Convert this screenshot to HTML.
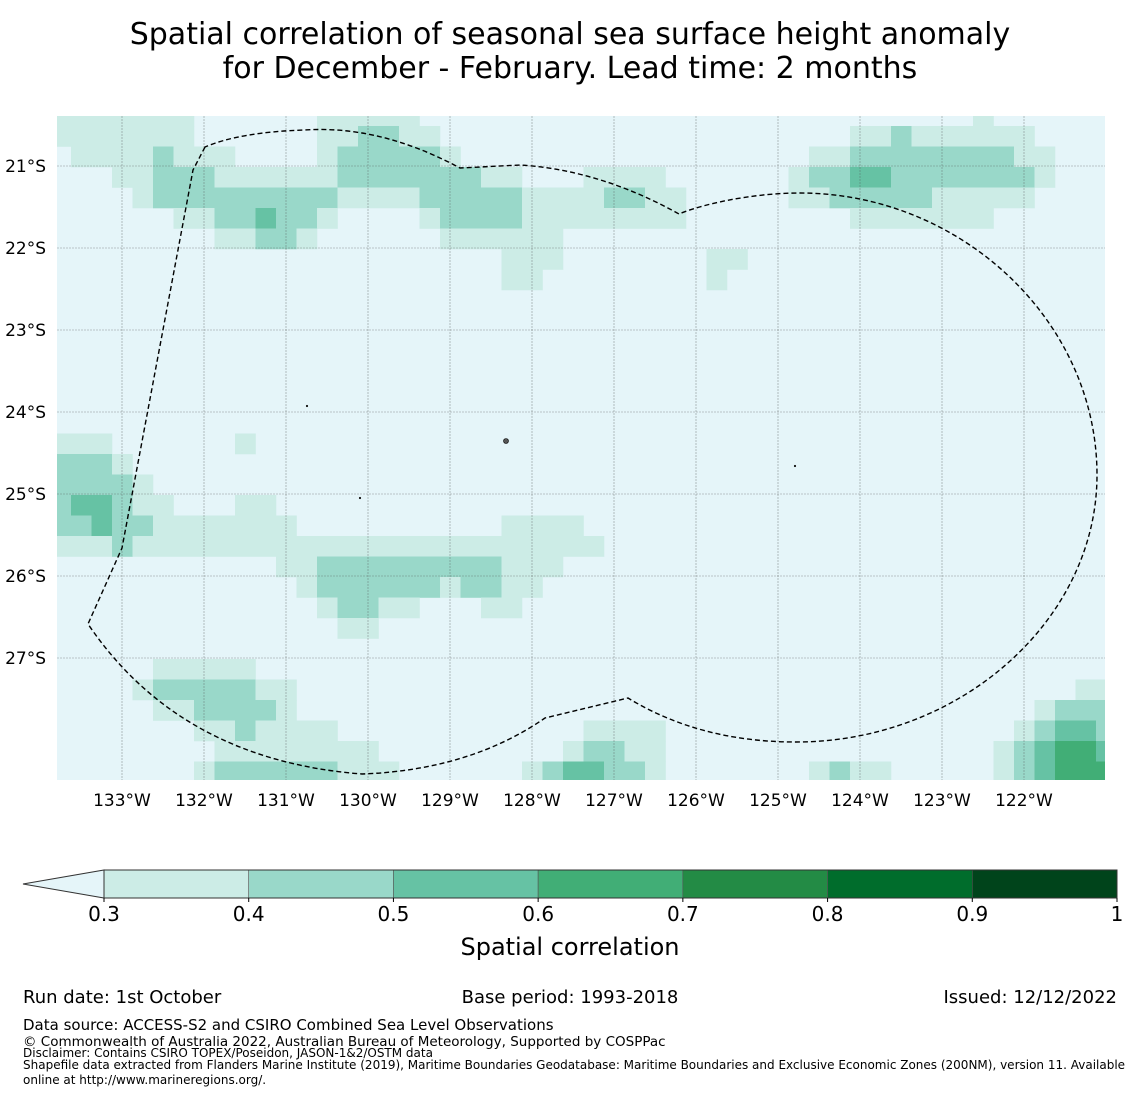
<!DOCTYPE html>
<html><head><meta charset="utf-8"><style>
html,body{margin:0;padding:0;background:#fff;}
svg{display:block;font-family:"DejaVu Sans","Liberation Sans",sans-serif;}
</style></head><body>
<svg id="fig" width="1140" height="1095" viewBox="0 0 1140 1095" xmlns="http://www.w3.org/2000/svg">
<text x="570" y="44" font-size="30" text-anchor="middle">Spatial correlation of seasonal sea surface height anomaly</text>
<text x="570" y="78" font-size="30" text-anchor="middle">for December - February. Lead time: 2 months</text>
<defs><clipPath id="mapclip"><rect x="57" y="116" width="1048" height="664"/></clipPath></defs>
<rect x="57" y="116" width="1048" height="664" fill="#e5f5f9"/>
<g id="cells" clip-path="url(#mapclip)"></g>
<g id="grid"></g>
<path d="M205,147 L193,170 L122,548 L88,624 Q180,760 362,774 Q470,770 545,718 L628,698 Q700,742 796,742 C960,742 1097,620 1097,475 C1097,320 960,193 800,193 C750,193 700,205 679,214 Q600,170 520,165 L460,168 Q380,125 305,130 Q240,132 205,147 Z" fill="none" stroke="#000" stroke-width="1.4" stroke-dasharray="5,3"/>
<g fill="#555" stroke="#000" stroke-width="0.6">
<circle cx="506" cy="441" r="2.5"/><circle cx="307" cy="406" r="0.8"/><circle cx="360" cy="498" r="0.8"/><circle cx="795" cy="466" r="0.8"/>
</g>
<g id="labels" font-size="17"></g>
<g id="cbar"></g>
<text x="570" y="955" font-size="24" text-anchor="middle">Spatial correlation</text>
<text x="23" y="1003" font-size="18">Run date: 1st October</text>
<text x="570" y="1003" font-size="18" text-anchor="middle">Base period: 1993-2018</text>
<text x="1117" y="1003" font-size="18" text-anchor="end">Issued: 12/12/2022</text>
<text x="23" y="1030" font-size="15">Data source: ACCESS-S2 and CSIRO Combined Sea Level Observations</text>
<text x="23" y="1046" font-size="13.5">© Commonwealth of Australia 2022, Australian Bureau of Meteorology, Supported by COSPPac</text>
<text x="23" y="1057" font-size="12">Disclaimer: Contains CSIRO TOPEX/Poseidon, JASON-1&amp;2/OSTM data</text>
<text x="23" y="1069" font-size="12">Shapefile data extracted from Flanders Marine Institute (2019), Maritime Boundaries Geodatabase: Maritime Boundaries and Exclusive Economic Zones (200NM), version 11. Available</text>
<text x="23" y="1084" font-size="12">online at http://www.marineregions.org/.</text>
</svg>
<script>
// Heatmap runs: [row, colStart, colEnd, level] (level 1=0.3-0.4, 2=0.4-0.5, 3=0.5-0.6, 4=0.6-0.7)
const runs = [
[0,0,6,1],[0,13,17,1],[0,45,45,1],
[1,0,6,1],[1,13,14,1],[1,15,16,2],[1,17,18,1],[1,39,40,1],[1,41,41,2],[1,42,47,1],
[2,1,4,1],[2,5,5,2],[2,6,8,1],[2,13,13,1],[2,14,18,2],[2,19,19,1],[2,37,38,1],[2,39,46,2],[2,47,48,1],
[3,3,4,1],[3,5,7,2],[3,8,13,1],[3,14,20,2],[3,21,22,1],[3,26,29,1],[3,36,36,1],[3,37,38,2],[3,39,40,3],[3,41,47,2],[3,48,48,1],
[4,4,4,1],[4,5,13,2],[4,14,17,1],[4,18,22,2],[4,23,26,1],[4,27,28,2],[4,29,30,1],[4,36,37,1],[4,38,42,2],[4,43,47,1],
[5,6,7,1],[5,8,9,2],[5,10,10,3],[5,11,12,2],[5,13,13,1],[5,18,18,1],[5,19,22,2],[5,23,30,1],[5,39,45,1],
[6,8,9,1],[6,10,11,2],[6,12,12,1],[6,19,24,1],
[7,22,24,1],[7,32,33,1],
[8,22,23,1],[8,32,32,1],
[16,0,2,1],[16,9,9,1],
[17,0,2,2],[17,3,3,1],
[18,0,3,2],[18,4,4,1],
[19,0,0,2],[19,1,2,3],[19,3,3,2],[19,4,5,1],[19,9,10,1],
[20,0,1,2],[20,2,2,3],[20,3,4,2],[20,5,11,1],[20,22,25,1],
[21,0,2,1],[21,3,3,2],[21,4,26,1],
[22,11,12,1],[22,13,21,2],[22,22,24,1],
[23,12,12,1],[23,13,18,2],[23,19,19,1],[23,20,21,2],[23,22,23,1],
[24,13,13,1],[24,14,15,2],[24,16,17,1],[24,21,22,1],
[25,14,15,1],
[27,5,9,1],
[28,4,4,1],[28,5,9,2],[28,10,11,1],[28,50,51,1],
[29,5,6,1],[29,7,10,2],[29,11,11,1],[29,48,48,1],[29,49,51,2],
[30,7,8,1],[30,9,9,2],[30,10,13,1],[30,26,29,1],[30,47,47,1],[30,48,48,2],[30,49,50,3],[30,51,51,2],
[31,8,15,1],[31,25,25,1],[31,26,27,2],[31,28,29,1],[31,46,46,1],[31,47,47,2],[31,48,48,3],[31,49,50,4],[31,51,51,3],
[32,7,7,1],[32,8,13,2],[32,14,16,1],[32,23,23,1],[32,24,24,2],[32,25,26,3],[32,27,28,2],[32,29,29,1],[32,37,37,1],[32,38,38,2],[32,39,40,1],[32,46,46,1],[32,47,47,2],[32,48,48,3],[32,49,51,4]
];
const lonTicks = [133,132,131,130,129,128,127,126,125,124,123,122];
const latTicks = [21,22,23,24,25,26,27];
const cbTicks = [0.3,0.4,0.5,0.6,0.7,0.8,0.9,1];
const cbColors = ["#ccece6","#99d8c9","#66c2a4","#41ae76","#238b45","#006d2c","#00441b"];

const NS='http://www.w3.org/2000/svg';
const DEG=82;
function lonX(lon){return 122+(133-lon)*DEG;}
function latY(lat){return 166+(lat-21)*DEG;}
function colX(c){return 71+20.5*(c-1);}
function rowY(r){return 126+20.5*(r-1);}
function cbX(v){return 104+(v-0.3)/0.7*1013;}
function mk(tag,attrs,parent){const e=document.createElementNS(NS,tag);for(const k in attrs)e.setAttribute(k,attrs[k]);parent.appendChild(e);return e;}

const cg=document.getElementById('cells');
runs.forEach(r=>{
  const x0=colX(r[1]),x1=colX(r[2]+1),y0=rowY(r[0]),y1=rowY(r[0]+1);
  const e=mk('rect',{x:x0,y:y0,width:x1-x0+0.3,height:y1-y0+0.3,fill:cbColors[r[3]-1]},cg);
  
  
});
const gg=document.getElementById('grid');
lonTicks.forEach(l=>{
  const e=mk('line',{x1:lonX(l),x2:lonX(l),y1:116,y2:780,stroke:'#555','stroke-width':0.6,'stroke-dasharray':'2,1','stroke-opacity':0.6},gg);
  
  
});
latTicks.forEach(l=>{
  const e=mk('line',{x1:57,x2:1105,y1:latY(l),y2:latY(l),stroke:'#555','stroke-width':0.6,'stroke-dasharray':'2,1','stroke-opacity':0.6},gg);
  
  
});
const lg=document.getElementById('labels');
lonTicks.forEach(l=>{
  const t=mk('text',{x:lonX(l),y:806,'text-anchor':'middle'},lg);t.textContent=l+'°W';
  
  
});
latTicks.forEach(l=>{
  const t=mk('text',{x:46,y:latY(l)+6,'text-anchor':'end'},lg);t.textContent=l+'°S';
  
  
});
const cb=document.getElementById('cbar');
const tri=mk('polygon',{points:'23,884 104,870 104,898',fill:'#e5f5f9',stroke:'#333','stroke-width':1},cb);


cbColors.forEach((c,i)=>{
  const x0=cbX(cbTicks[i]),x1=cbX(cbTicks[i+1]);
  const e=mk('rect',{x:x0,y:870,width:x1-x0,height:28,fill:c,stroke:'#555','stroke-width':0.6},cb);
  
  
});
mk('rect',{x:104,y:870,width:1013,height:28,fill:'none',stroke:'#333','stroke-width':1},cb);
cbTicks.forEach(v=>{
  mk('line',{x1:cbX(v),x2:cbX(v),y1:898,y2:902,stroke:'#000','stroke-width':1},cb);
  const t=mk('text',{x:cbX(v),y:921,'font-size':20,'text-anchor':'middle'},cb);t.textContent=String(v);
  
  
});
</script>
</body></html>
